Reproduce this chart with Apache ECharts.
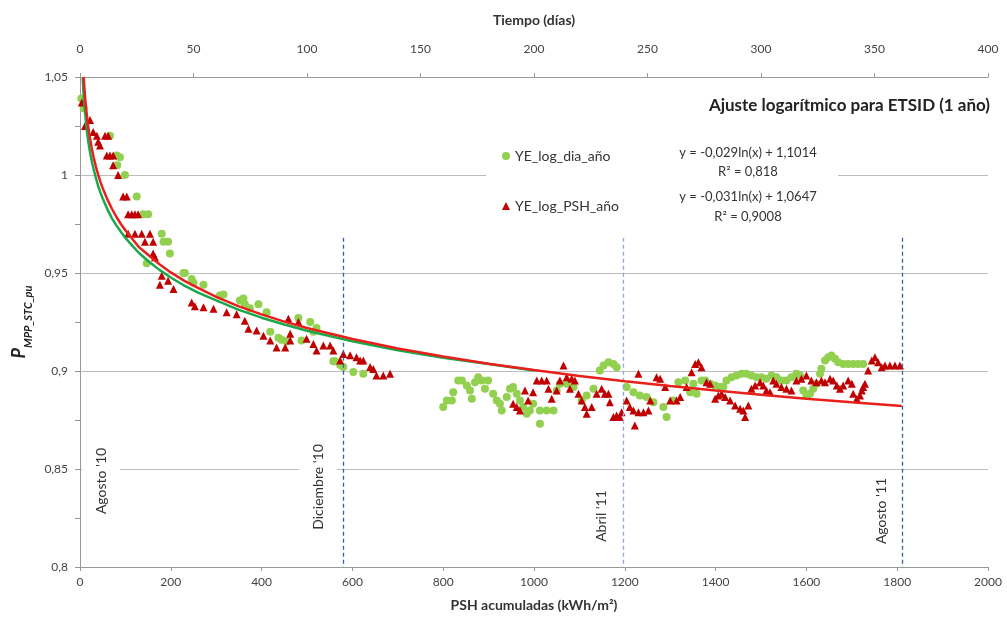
<!DOCTYPE html>
<html><head><meta charset="utf-8">
<script src="https://cdn.jsdelivr.net/npm/echarts@6/dist/echarts.min.js"></script>
<style>html,body{margin:0;padding:0;background:#fff}#c{width:1007px;height:624px}</style>
</head><body><div id="c"></div>
<script>
// ---------- DATA ----------
const seriesNames = ['YE_log_dia_año', 'YE_log_PSH_año'];
const equations = ['y = -0,029ln(x) + 1,1014', 'R² = 0,818', 'y = -0,031ln(x) + 1,0647', 'R² = 0,9008'];
const chartTitle = 'Ajuste logarítmico para ETSID (1 año)';

// green circles: [PSH acumuladas, P]
const greenPoints = [
 [3,1.039],[8,1.034],[66,1.020],[81,1.010],[88,1.009],[82,1.005],[99,1.000],[125,0.989],[139,0.980],[150,0.980],
 [147,0.955],[180,0.970],[184,0.966],[194,0.966],[198,0.960],[228,0.950],[231,0.950],[246,0.947],[250,0.945],[272,0.944],
 [308,0.9385],[316,0.939],[352,0.936],[360,0.937],[363,0.934],[374,0.932],[393,0.934],[411,0.930],[419,0.920],[437,0.917],
 [444,0.916],[455,0.915],[481,0.927],[488,0.9155],[507,0.925],[514,0.920],[521,0.922],[558,0.905],[562,0.905],[573,0.903],
 [580,0.902],[602,0.8995],[624,0.8986],
 [800,0.8816],[808,0.885],[819,0.885],[822,0.8892],[833,0.8951],[841,0.8951],[852,0.8926],[859,0.890],[863,0.8858],[870,0.8943],
 [877,0.8968],[885,0.8951],[892,0.8909],[899,0.8951],[910,0.8884],[918,0.885],[925,0.8833],[929,0.8799],[940,0.8867],[947,0.8909],
 [954,0.8918],[962,0.8884],[969,0.885],[976,0.8816],[984,0.8782],[991,0.8799],[998,0.8833],[1013,0.8799],[1028,0.8799],[1043,0.8799],
 [1013,0.8731],[1050,0.890],[1057,0.8935],[1072,0.8935],[1087,0.8918],[1105,0.885],[1116,0.8875],[1131,0.8909],[1145,0.9002],[1153,0.9028],
 [1164,0.9045],[1175,0.9036],[1182,0.9019],[1204,0.8918],[1219,0.8892],[1233,0.8875],[1248,0.8867],[1263,0.8841],[1285,0.8816],[1292,0.8765],
 [1307,0.885],[1318,0.8943],[1333,0.8951],[1344,0.8892],[1351,0.8935],[1358,0.8884],[1369,0.8951],[1377,0.8951],[1388,0.8935],[1399,0.8926],
 [1410,0.8918],[1417,0.8918],[1424,0.8951],[1435,0.8968],[1446,0.8977],[1457,0.8986],[1468,0.8986],[1479,0.8977],[1490,0.8968],[1501,0.8968],
 [1512,0.896],[1523,0.8977],[1534,0.8968],[1545,0.8951],[1556,0.8951],[1567,0.8968],[1578,0.8986],[1586,0.8977],[1593,0.890],[1600,0.8875],
 [1608,0.8884],[1615,0.8909],[1622,0.8935],[1630,0.8986],[1633,0.9011],[1641,0.9053],[1648,0.907],[1655,0.9079],[1663,0.9062],[1670,0.9045],
 [1681,0.9036],[1692,0.9036],[1703,0.9036],[1714,0.9036],[1725,0.9036]
];

// red triangles: [PSH acumuladas, P]
const redPoints = [
 [4,1.037],[11,1.025],[22,1.028],[29,1.022],[37,1.020],[40,1.017],[44,1.015],[55,1.020],[59,1.010],[62,1.020],
 [66,1.010],[73,1.010],[73,1.005],[84,1.000],[95,0.989],[103,0.989],[106,0.980],[114,0.980],[121,0.980],[128,0.980],
 [106,0.970],[121,0.970],[136,0.970],[154,0.970],[143,0.966],[161,0.966],[161,0.960],[165,0.958],[176,0.944],[180,0.9486],
 [194,0.946],[206,0.9418],[246,0.935],[253,0.933],[272,0.9325],[294,0.9317],[323,0.930],[345,0.929],[363,0.9257],[371,0.9215],
 [389,0.9206],[404,0.918],[419,0.9155],[433,0.912],[452,0.912],[459,0.9266],[463,0.919],[463,0.9155],[481,0.925],[499,0.9164],
 [514,0.9138],[521,0.9104],[536,0.913],[551,0.913],[558,0.9104],[573,0.9053],[580,0.9087],[595,0.908],[609,0.907],[617,0.9053],
 [624,0.9053],[639,0.902],[646,0.901],[653,0.8977],[668,0.8977],[683,0.8986],
 [954,0.8833],[962,0.8816],[969,0.8799],[980,0.890],[987,0.885],[998,0.8892],[1006,0.8951],[1017,0.8951],[1028,0.8951],[1032,0.8909],
 [1039,0.8858],[1050,0.890],[1057,0.8951],[1065,0.9028],[1072,0.8968],[1079,0.8909],[1083,0.896],[1090,0.8951],[1098,0.8884],[1105,0.885],
 [1112,0.8816],[1116,0.8782],[1127,0.8816],[1138,0.8884],[1149,0.8909],[1156,0.8884],[1164,0.8884],[1167,0.8841],[1175,0.8765],[1182,0.8773],
 [1189,0.8765],[1193,0.879],[1204,0.885],[1211,0.8816],[1219,0.8799],[1222,0.8722],[1230,0.879],[1230,0.8986],[1241,0.879],[1252,0.8799],
 [1256,0.885],[1270,0.8968],[1278,0.896],[1289,0.8918],[1300,0.885],[1314,0.885],[1322,0.8867],[1336,0.8918],[1347,0.8994],[1355,0.9036],
 [1362,0.9045],[1369,0.9019],[1380,0.8943],[1388,0.8935],[1399,0.8858],[1406,0.8875],[1413,0.8884],[1421,0.8867],[1432,0.885],[1443,0.8824],
 [1454,0.8807],[1461,0.8799],[1465,0.8765],[1472,0.8824],[1479,0.8909],[1487,0.8926],[1498,0.8943],[1505,0.8926],[1512,0.890],[1520,0.8892],
 [1527,0.8951],[1534,0.8935],[1545,0.8918],[1556,0.8909],[1567,0.890],[1578,0.8951],[1589,0.896],[1600,0.8977],[1611,0.8951],[1622,0.8943],
 [1633,0.8951],[1641,0.8943],[1652,0.896],[1659,0.8951],[1667,0.8926],[1674,0.8909],[1681,0.8926],[1692,0.8951],[1700,0.8935],[1703,0.8884],
 [1711,0.8858],[1718,0.8875],[1722,0.890],[1725,0.8918],[1729,0.8935],[1736,0.9002],[1744,0.9053],[1751,0.907],[1758,0.9045],[1766,0.9019],
 [1773,0.9028],[1784,0.9028],[1795,0.9028],[1806,0.9028]
];

// trend lines
const greenTrend = [
 [6,1.0495],[7,1.045],[8,1.041],[9,1.0378],[10,1.0346],[12,1.030],[14,1.0249],[16,1.021],[18,1.0176],[20,1.0145],[23,1.0105],[26,1.007],
 [30,1.003],[35,0.9985],[40,0.9944],[45,0.991],[50,0.988],[60,0.9827],[70,0.978],[80,0.9743],[90,0.971],[100,0.9679],[115,0.964],
 [130,0.9602],[150,0.9561],[175,0.9516],[200,0.9477],[230,0.9435],[260,0.94],[300,0.936],[350,0.9312],[400,0.9272],[450,0.9237],
 [500,0.9205],[600,0.9152],[700,0.9106],[800,0.9068],[900,0.9036],[1000,0.9003]
];
const redTrend = [
 [8,1.0501],[9,1.0465],[10,1.0432],[12,1.0376],[14,1.0328],[16,1.0285],[18,1.0248],[20,1.0216],[23,1.0173],[26,1.0135],
 [30,1.009],[35,1.0043],[40,1.0002],[45,0.9965],[50,0.9933],[60,0.9877],[70,0.9829],[80,0.9787],[90,0.975],[100,0.9718],[115,0.9675],
 [130,0.9631],[150,0.9593],[175,0.9545],[200,0.9503],[230,0.946],[260,0.9424],[300,0.9378],[350,0.933],[400,0.9289],[450,0.9252],
 [500,0.9219],[600,0.9163],[700,0.9115],[800,0.9074],[900,0.9037],[1000,0.9005],[1100,0.8975],[1200,0.8948],[1300,0.8923],
 [1400,0.89],[1500,0.8879],[1600,0.8859],[1700,0.884],[1810,0.8821]
];

// month marker lines (PSH position) and labels
const monthLabels = ["Agosto '10", "Diciembre '10", "Abril '11", "Agosto '11"];
const monthLineX = [579, 1196, 1811];
const monthLineTop = 0.968;

// ---------- CHART ----------
const FONT = 'Lato, "Open Sans", sans-serif';
const chart = echarts.init(document.getElementById('c'));
const fmt = v => String(+v.toFixed(3)).replace('.', ',');
const plain = v => String(Math.round(v));

const vLines = monthLineX.map((x, i) => [
  {coord: [x, monthLineTop], lineStyle: {color: i === 1 ? '#8eaadb' : '#3b5f9c'}},
  {coord: [x, 0.8]}
]);

const rotLabel = (text, x, y) => ({
  type: 'text', z: 6, x: x, y: y, rotation: Math.PI / 2,
  style: {text: text, fontFamily: FONT, fontSize: 14, fill: '#333', align: 'center', verticalAlign: 'middle',
    backgroundColor: '#fff', padding: [12, 4]}
});

chart.setOption({
  animation: false,
  backgroundColor: '#fff',
  grid: {left: 80, right: 19, top: 77, bottom: 57},
  xAxis: [{
    type: 'value', min: 0, max: 2000, interval: 200, position: 'bottom',
    name: 'PSH acumuladas (kWh/m²)', nameLocation: 'middle', nameGap: 31,
    nameTextStyle: {fontFamily: FONT, fontSize: 14, fontWeight: 'bold', color: '#333'},
    axisLine: {lineStyle: {color: '#999'}}, axisTick: {lineStyle: {color: '#999'}, length: 4},
    axisLabel: {fontFamily: FONT, fontSize: 12, color: '#444', margin: 9, formatter: plain},
    splitLine: {show: false}
  }, {
    type: 'value', min: 0, max: 400, interval: 50, position: 'top',
    name: 'Tiempo (días)', nameLocation: 'middle', nameGap: 50,
    nameTextStyle: {fontFamily: FONT, fontSize: 14, fontWeight: 'bold', color: '#333'},
    axisLine: {show: true, lineStyle: {color: '#999'}}, axisTick: {lineStyle: {color: '#999'}, length: 4},
    axisLabel: {fontFamily: FONT, fontSize: 12, color: '#444', margin: 22, formatter: plain},
    splitLine: {show: false}
  }],
  yAxis: {
    type: 'value', min: 0.8, max: 1.05, interval: 0.05,
    name: '{p|P}{s|MPP_STC_pu}', nameLocation: 'middle', nameGap: 36, nameRotate: 90,
    nameTextStyle: {
      rich: {
        p: {fontFamily: FONT, fontSize: 18, fontWeight: 'bold', fontStyle: 'italic', color: '#222', verticalAlign: 'bottom'},
        s: {fontFamily: FONT, fontSize: 11, fontWeight: 'bold', fontStyle: 'italic', color: '#222', verticalAlign: 'bottom', padding: [0, 0, -5, 0]}
      }
    },
    axisLine: {show: true, lineStyle: {color: '#999'}},
    axisTick: {show: true, length: 5, lineStyle: {color: '#999'}},
    minorTick: {show: true, splitNumber: 2, length: 5, lineStyle: {color: '#999'}},
    axisLabel: {fontFamily: FONT, fontSize: 12, color: '#444', margin: 12, formatter: fmt},
    splitLine: {show: true, lineStyle: {color: '#bdbdbd', width: 1}}
  },
  legend: {
    orient: 'vertical', left: 497, top: 144, itemGap: 36, itemWidth: 8, itemHeight: 8, z: 10,
    textStyle: {fontFamily: FONT, fontSize: 14, color: '#333'},
    data: [{name: seriesNames[0], icon: 'circle'}, {name: seriesNames[1], icon: 'triangle'}]
  },
  graphic: [
    {type: 'rect', z: 5, silent: true, shape: {x: 486, y: 140, width: 352, height: 90}, style: {fill: '#fff'}},
    {type: 'text', z: 6, right: 17, top: 97, style: {text: chartTitle, fontFamily: FONT, fontSize: 17, fontWeight: 'bold', fill: '#222'}},
    {type: 'text', z: 6, x: 748, y: 153, style: {text: equations[0], fontFamily: FONT, fontSize: 13, fill: '#333', align: 'center', verticalAlign: 'middle'}},
    {type: 'text', z: 6, x: 748, y: 172, style: {text: equations[1], fontFamily: FONT, fontSize: 13, fill: '#333', align: 'center', verticalAlign: 'middle'}},
    {type: 'text', z: 6, x: 748, y: 197, style: {text: equations[2], fontFamily: FONT, fontSize: 13, fill: '#333', align: 'center', verticalAlign: 'middle'}},
    {type: 'text', z: 6, x: 748, y: 217, style: {text: equations[3], fontFamily: FONT, fontSize: 13, fill: '#333', align: 'center', verticalAlign: 'middle'}},
    rotLabel(monthLabels[0], 101, 481),
    rotLabel(monthLabels[1], 318, 487),
    rotLabel(monthLabels[2], 601, 516),
    rotLabel(monthLabels[3], 881, 511)
  ],
  series: [
    {
      name: seriesNames[0], type: 'scatter', data: greenPoints, symbol: 'circle', symbolSize: 8,
      itemStyle: {color: '#92d050', opacity: 1}, z: 3,
      markLine: {silent: true, symbol: ['none', 'none'], label: {show: false},
        lineStyle: {type: [4, 3], width: 1.3, color: '#3b5f9c'}, data: vLines}
    },
    {
      name: seriesNames[1], type: 'scatter', data: redPoints, symbol: 'triangle', symbolSize: 8,
      itemStyle: {color: '#c00000', opacity: 1}, z: 4
    },
    {
      name: 'trend_green', type: 'line', data: greenTrend, smooth: false, showSymbol: false,
      lineStyle: {color: '#1aa84c', width: 2.5}, z: 5
    },
    {
      name: 'trend_red', type: 'line', data: redTrend, smooth: false, showSymbol: false,
      lineStyle: {color: '#e8201c', width: 2.5}, z: 6
    }
  ]
});
</script></body></html>
